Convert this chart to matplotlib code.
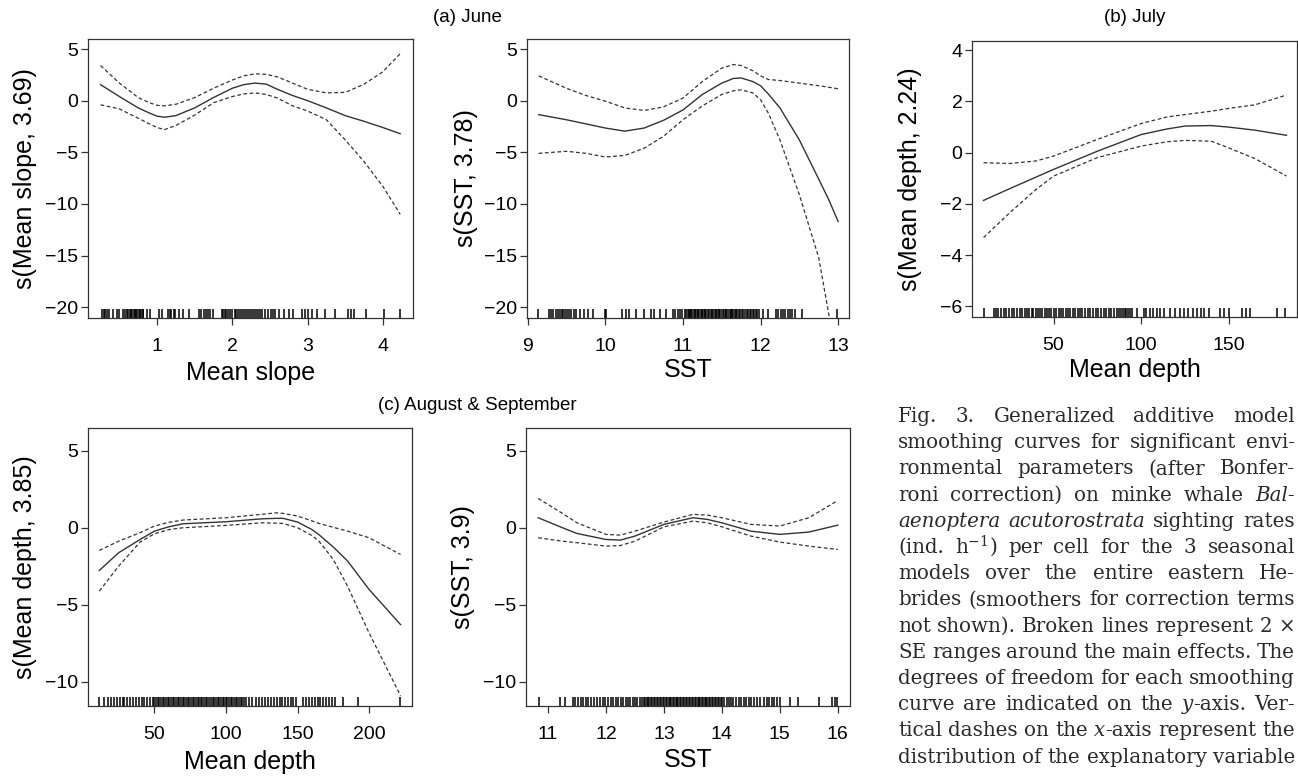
import matplotlib
matplotlib.use("Agg")
import matplotlib.pyplot as plt

plt.rcParams['font.family'] = ['Liberation Sans', 'DejaVu Sans']
plt.rcParams['mathtext.fontset'] = 'dejavuserif'

# (a) June - mean slope
slope_x = [0.25, 0.5, 0.75, 0.9, 1.0, 1.1, 1.25, 1.5, 1.75, 2.0, 2.15, 2.3, 2.45, 2.6, 2.8, 3.0, 3.25, 3.5, 3.75, 4.0, 4.23]
slope_fit = [1.55, 0.4, -0.7, -1.2, -1.5, -1.6, -1.45, -0.7, 0.3, 1.2, 1.55, 1.7, 1.6, 1.1, 0.5, 0.0, -0.7, -1.45, -2.0, -2.6, -3.2]
slope_up = [3.4, 1.7, 0.3, -0.2, -0.45, -0.5, -0.35, 0.3, 1.2, 2.0, 2.4, 2.6, 2.55, 2.3, 1.7, 1.1, 0.75, 0.8, 1.6, 2.8, 4.55]
slope_lo = [-0.4, -0.8, -1.7, -2.25, -2.6, -2.8, -2.4, -1.4, -0.2, 0.4, 0.65, 0.75, 0.6, 0.25, -0.5, -1.0, -1.85, -3.8, -5.9, -8.3, -11.0]
slope_rug = [0.27, 0.29, 0.31, 0.34, 0.36, 0.42, 0.47, 0.50, 0.55, 0.57, 0.60, 0.62, 0.64, 0.66, 0.67, 0.69,
             0.71, 0.72, 0.74, 0.76, 0.77, 0.79, 0.81, 0.82, 0.87, 0.91, 1.02, 1.07, 1.14, 1.17, 1.19, 1.22,
             1.24, 1.29, 1.35, 1.42, 1.56, 1.59, 1.62, 1.65, 1.68, 1.71, 1.75, 1.86, 1.88, 1.90, 1.92, 1.94,
             1.97, 1.99, 2.03, 2.05, 2.08, 2.10, 2.13, 2.15, 2.18, 2.21, 2.23, 2.26, 2.29, 2.32, 2.34, 2.37,
             2.40, 2.43, 2.48, 2.51, 2.54, 2.57, 2.62, 2.68, 2.75, 2.81, 2.92, 2.97, 3.01, 3.06, 3.12, 3.23,
             3.37, 3.54, 3.58, 3.61, 3.77, 4.01, 4.23]

# (a) June - SST
sstj_x = [9.14, 9.5, 9.75, 10.0, 10.25, 10.5, 10.75, 11.0, 11.25, 11.5, 11.65, 11.75, 11.9, 12.0, 12.1, 12.25, 12.5, 12.75, 12.88, 13.0]
sstj_fit = [-1.35, -1.85, -2.25, -2.65, -2.95, -2.65, -1.9, -0.9, 0.6, 1.7, 2.15, 2.2, 1.85, 1.45, 0.65, -0.7, -3.8, -7.6, -9.6, -11.7]
sstj_up = [2.4, 1.2, 0.5, -0.05, -0.7, -0.95, -0.6, 0.25, 1.85, 3.15, 3.5, 3.4, 2.9, 2.4, 2.05, 1.95, 1.7, 1.45, 1.3, 1.15]
sstj_lo = [-5.1, -4.9, -5.1, -5.45, -5.3, -4.6, -3.45, -1.85, -0.5, 0.6, 0.95, 1.05, 0.75, 0.1, -1.2, -3.8, -9.1, -15.2, -20.7, -24.5]
sstj_rug = [9.13, 9.27, 9.30, 9.32, 9.36, 9.39, 9.41, 9.44, 9.46, 9.48, 9.51, 9.53, 9.56, 9.59, 9.62, 9.67,
            9.73, 9.77, 9.84, 10.0, 10.01, 10.22, 10.27, 10.31, 10.39, 10.5, 10.59, 10.63, 10.7, 10.78, 10.87,
            10.9, 10.93, 10.96, 10.99, 11.02, 11.04, 11.06, 11.08, 11.09, 11.11, 11.12, 11.14, 11.15, 11.17,
            11.19, 11.2, 11.22, 11.24, 11.25, 11.27, 11.29, 11.3, 11.32, 11.34, 11.36, 11.37, 11.39, 11.41,
            11.42, 11.44, 11.46, 11.47, 11.49, 11.51, 11.53, 11.55, 11.56, 11.58, 11.6, 11.62, 11.63, 11.65,
            11.67, 11.69, 11.7, 11.72, 11.74, 11.76, 11.78, 11.8, 11.82, 11.84, 11.86, 11.88, 11.9, 11.92,
            11.94, 11.96, 11.98, 12.03, 12.09, 12.2, 12.23, 12.26, 12.29, 12.32, 12.35, 12.38, 12.41, 12.45,
            12.54, 12.99]

# (b) July - mean depth
depj_x = [10, 25, 40, 50, 75, 100, 115, 125, 140, 150, 165, 183]
depj_fit = [-1.86, -1.4, -0.95, -0.65, 0.06, 0.71, 0.93, 1.04, 1.06, 1.0, 0.88, 0.68]
depj_up = [-0.39, -0.42, -0.32, -0.13, 0.52, 1.14, 1.4, 1.49, 1.62, 1.73, 1.87, 2.25]
depj_lo = [-3.31, -2.34, -1.43, -0.91, -0.19, 0.26, 0.43, 0.48, 0.45, 0.19, -0.23, -0.91]
depj_rug = [10, 15.7, 17, 18.5, 20, 21.5, 23, 24.5, 26, 27.5, 29, 31, 32, 33.8, 35, 36, 37.5, 38.5, 40, 41,
            42.5, 43.5, 45, 46, 47.5, 48.5, 50, 51.5, 53, 54, 55.5, 57, 58, 59.5, 61, 62.5, 64, 65, 66.5, 68,
            69.5, 71, 72.5, 74, 75.5, 77, 78.5, 80, 81.5, 83, 84.5, 86, 87.5, 88.5, 89.5, 90.5, 91.5, 92.5,
            93.5, 95, 97.6, 101.4, 103, 105, 107, 109, 111, 112.9, 116.7, 119.5, 122, 124.5, 127, 129.5, 132,
            134, 135.7, 138.6, 145.2, 147.1, 150, 157.6, 160, 162.4, 177.6, 182.4]

# (c) August & September - mean depth
depa_x = [11.5, 25, 40, 50, 60, 70, 100, 125, 135, 140, 150, 160, 165, 175, 185, 200, 222]
depa_fit = [-2.77, -1.62, -0.76, -0.22, 0.06, 0.26, 0.39, 0.58, 0.61, 0.61, 0.37, -0.11, -0.45, -1.25, -2.16, -4.0, -6.28]
depa_up = [-1.47, -0.87, -0.32, 0.11, 0.35, 0.5, 0.65, 0.87, 0.97, 0.93, 0.76, 0.45, 0.28, 0.03, -0.22, -0.65, -1.73]
depa_lo = [-4.11, -2.49, -0.93, -0.39, -0.12, 0.0, 0.15, 0.32, 0.3, 0.28, 0.0, -0.5, -0.87, -2.06, -3.79, -6.82, -10.89]
depa_rug = [11.5, 15, 17.5, 20, 22, 24, 26, 27.9, 29, 31, 33, 35, 37, 39, 41, 43, 45, 47, 48.8, 50, 51.2,
            52.3, 53.5, 54.6, 55.8, 57, 58.1, 59.3, 60.4, 61.6, 62.8, 63.9, 65.1, 66.2, 67.4, 68.6, 69.7,
            70.9, 72, 73.2, 74.4, 75.5, 76.7, 77.8, 79, 80.2, 81.3, 82.5, 83.6, 84.8, 86, 87.1, 88.3, 89.4,
            90.6, 91.8, 92.9, 94.1, 95.2, 96.4, 97.6, 98.7, 99.9, 101, 102.2, 103.4, 104.5, 105.7, 106.8, 108,
            109.2, 110.3, 111.5, 112.6, 114, 116.4, 118.5, 121, 123.4, 125.5, 127.5, 129.5, 131.5, 133.5,
            135.5, 137.5, 139.5, 141.5, 143.5, 145.5, 147, 149, 153.7, 156, 158, 160, 162, 164, 166, 168, 170,
            172, 174, 175.9, 181.7, 192.2, 221.3]

# (c) August & September - SST
ssta_x = [10.83, 11.25, 11.5, 12.0, 12.25, 12.5, 13.0, 13.5, 13.75, 14.0, 14.5, 15.0, 15.5, 16.0]
ssta_fit = [0.65, 0.0, -0.37, -0.76, -0.8, -0.54, 0.22, 0.65, 0.54, 0.32, -0.22, -0.43, -0.28, 0.17]
ssta_up = [1.9, 0.93, 0.32, -0.43, -0.48, -0.22, 0.37, 0.87, 0.82, 0.65, 0.22, 0.11, 0.65, 1.77]
ssta_lo = [-0.65, -0.87, -0.97, -1.19, -1.15, -0.87, 0.06, 0.43, 0.32, 0.06, -0.54, -0.93, -1.19, -1.41]
ssta_rug = [10.84, 11.2, 11.29, 11.43, 11.47, 11.52, 11.57, 11.6, 11.65, 11.69, 11.74, 11.8, 11.85, 11.9,
            11.94, 11.99, 12.03, 12.08, 12.12, 12.17, 12.21, 12.26, 12.3, 12.34, 12.38, 12.42, 12.46, 12.5,
            12.54, 12.58, 12.62, 12.66, 12.68, 12.70, 12.73, 12.75, 12.78, 12.80, 12.83, 12.85, 12.88, 12.90,
            12.93, 12.95, 12.98, 13.00, 13.03, 13.05, 13.08, 13.10, 13.13, 13.15, 13.18, 13.20, 13.23, 13.25,
            13.28, 13.30, 13.33, 13.35, 13.38, 13.40, 13.43, 13.45, 13.48, 13.50, 13.53, 13.55, 13.58, 13.60,
            13.63, 13.65, 13.68, 13.70, 13.73, 13.75, 13.78, 13.80, 13.83, 13.85, 13.88, 13.90, 13.93, 13.95,
            13.98, 14.00, 14.03, 14.08, 14.12, 14.16, 14.2, 14.25, 14.29, 14.33, 14.38, 14.42, 14.46, 14.5,
            14.55, 14.61, 14.66, 14.72, 14.77, 14.82, 14.86, 14.9, 14.95, 15.01, 15.18, 15.31, 15.68, 15.9,
            15.95, 15.99]

caption = [
    "Fig. 3. Generalized additive model",
    "smoothing curves for significant envi-",
    "ronmental parameters (after Bonfer-",
    "roni correction) on minke whale _Bal-_",
    "_aenoptera_ _acutorostrata_ sighting rates",
    "(ind. h$^{-1}$) per cell for the 3 seasonal",
    "models over the entire eastern He-",
    "brides (smoothers for correction terms",
    "not shown). Broken lines represent 2 \u00d7",
    "SE ranges around the main effects. The",
    "degrees of freedom for each smoothing",
    "curve are indicated on the _y_-axis. Ver-",
    "tical dashes on the _x_-axis represent the",
    "distribution of the explanatory variable",
]

W, H = 1298, 776
fig = plt.figure(figsize=(W / 100, H / 100), dpi=100)
INK = '#333333'


def panel(box, x, fit, up, lo, rug, xlim, ylim, xticks, yticks, xlabel, ylabel, lx, ly):
    l, t, r, b = box
    ax = fig.add_axes([l / W, 1 - b / H, (r - l) / W, (b - t) / H])
    ax.plot(x, fit, color=INK, lw=1.0)
    ax.plot(x, up, color=INK, lw=0.9, ls=(0, (3, 2)))
    ax.plot(x, lo, color=INK, lw=0.9, ls=(0, (3, 2)))
    ax.vlines(rug, 0, 0.033, transform=ax.get_xaxis_transform(), color='black', lw=1.1)
    ax.set_xlim(xlim)
    ax.set_ylim(ylim)
    ax.set_xticks(xticks)
    ax.set_yticks(yticks)
    ax.tick_params(direction='out', length=5.3, width=0.9, labelsize=14, color=INK)
    ax.tick_params(axis='x', pad=9)
    ax.tick_params(axis='y', pad=1.5)
    for s in ax.spines.values():
        s.set_color(INK)
        s.set_linewidth(0.9)
    ax.set_xlabel(xlabel, fontsize=18)
    ax.set_ylabel(ylabel, fontsize=18)
    ax.xaxis.set_label_coords(0.5, lx)
    ax.xaxis.label.set_va('center')
    ax.yaxis.set_label_coords(ly, 0.5)
    ax.yaxis.label.set_va('center')
    return ax


panel((88, 39, 413, 318), slope_x, slope_fit, slope_up, slope_lo, slope_rug,
      (0.083, 4.40), (-21.04, 5.97), [1, 2, 3, 4], [5, 0, -5, -10, -15, -20],
      "Mean slope", "s(Mean slope, 3.69)", -0.197, -0.194)
panel((527, 39, 849, 318), sstj_x, sstj_fit, sstj_up, sstj_lo, sstj_rug,
      (8.99, 13.14), (-21.04, 5.97), [9, 10, 11, 12, 13], [5, 0, -5, -10, -15, -20],
      "SST", "s(SST, 3.78)", -0.186, -0.19)
panel((972, 41, 1297, 317), depj_x, depj_fit, depj_up, depj_lo, depj_rug,
      (3.4, 189), (-6.41, 4.36), [50, 100, 150], [4, 2, 0, -2, -4, -6],
      "Mean depth", "s(Mean depth, 2.24)", -0.192, -0.19)
panel((88, 428, 412, 706), depa_x, depa_fit, depa_up, depa_lo, depa_rug,
      (3.6, 230), (-11.56, 6.47), [50, 100, 150, 200], [5, 0, -5, -10],
      "Mean depth", "s(Mean depth, 3.85)", -0.2, -0.194)
panel((526, 428, 850, 706), ssta_x, ssta_fit, ssta_up, ssta_lo, ssta_rug,
      (10.62, 16.21), (-11.56, 6.47), [11, 12, 13, 14, 15, 16], [5, 0, -5, -10],
      "SST", "s(SST, 3.9)", -0.194, -0.194)

fig.text(467 / W, 1 - 18 / H, "(a) June", ha='center', va='center', fontsize=13.5)
fig.text(1135 / W, 1 - 18 / H, "(b) July", ha='center', va='center', fontsize=13.5)
fig.text(477 / W, 1 - 405 / H, "(c) August & September", ha='center', va='center', fontsize=13.5)

# caption, justified word by word
cap_x, cap_w = 898, 397
r = fig.canvas.get_renderer()
for i, line in enumerate(caption):
    base = 422 + i * 26.2
    pieces = []
    for word in line.split(" "):
        segs = []
        for k, s in enumerate(word.split("_")):
            if s:
                t = fig.text(0, 0, s, fontsize=14.3, family='DejaVu Serif', color='#2a2a2a',
                             style='italic' if k % 2 else 'normal', va='baseline')
                segs.append((t, t.get_window_extent(r).width))
        pieces.append(segs)
    widths = [sum(w for _, w in segs) for segs in pieces]
    gap = (cap_w - sum(widths)) / (len(pieces) - 1)
    x = cap_x
    for segs in pieces:
        for t, w in segs:
            t.set_position((x / W, 1 - base / H))
            x += w
        x += gap

fig.savefig("out.png", dpi=100)
